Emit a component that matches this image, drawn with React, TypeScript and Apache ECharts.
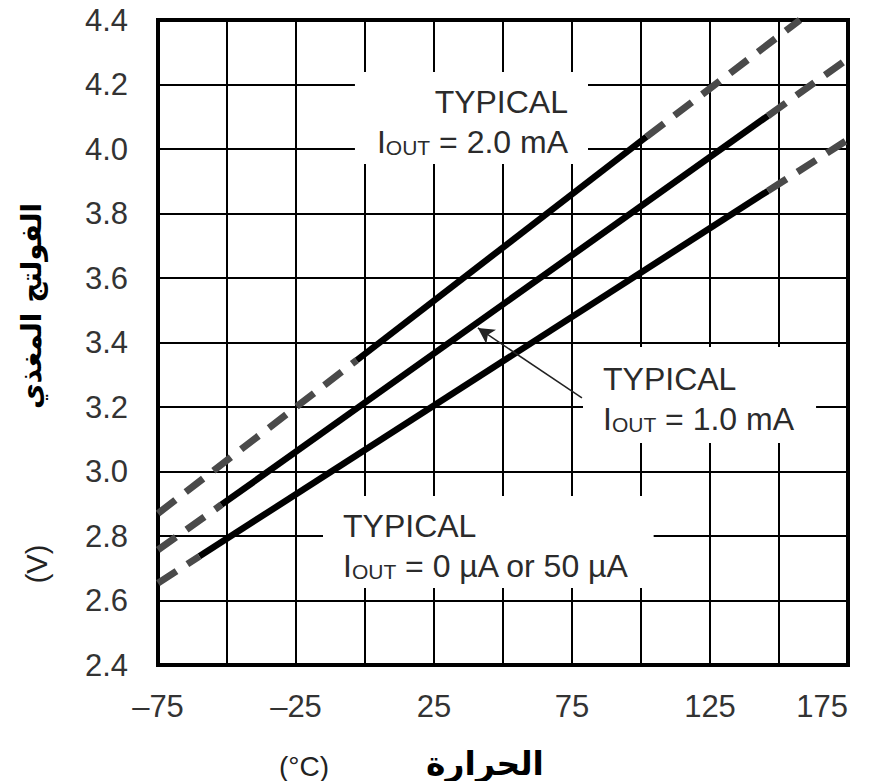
import React, { useEffect, useRef } from "react";
import * as echarts from "echarts";

// ---- data ----
const xTicks = { min: -75, max: 175, step: 25 };
const yTicks = { min: 2.4, max: 4.4, step: 0.2 };

// I_OUT = 2.0 mA
const out20DashLeft: [number, number][] = [[-75, 2.87], [-3, 3.345]];
const out20Solid: [number, number][] = [[-3, 3.345], [102, 4.038]];
const out20DashRight: [number, number][] = [[102, 4.038], [157.6, 4.4]];

// I_OUT = 1.0 mA
const out10DashLeft: [number, number][] = [[-75, 2.757], [-52, 2.897]];
const out10Solid: [number, number][] = [[-52, 2.897], [146, 4.103]];
const out10DashRight: [number, number][] = [[146, 4.103], [175, 4.28]];

// I_OUT = 0 µA or 50 µA
const out0DashLeft: [number, number][] = [[-75, 2.654], [-60, 2.737]];
const out0Solid: [number, number][] = [[-60, 2.737], [146, 3.87]];
const out0DashRight: [number, number][] = [[146, 3.87], [175, 4.029]];

// arrow pointing at the 1.0 mA line
const arrowFrom: [number, number] = [78.6, 3.228];
const arrowTo: [number, number] = [40.9, 3.445];

const yTitle = "الفولتج المغذي";
const yUnit = "(V)";
const xTitle = "الحرارة";
const xUnit = "(°C)";

const LAT = "'Liberation Sans', Arial, sans-serif";
const ARB = "'DejaVu Sans', sans-serif";

const richStyles = {
  a: { fontSize: 32, lineHeight: 40, fontFamily: LAT, fill: "#2b2b2b", verticalAlign: "bottom" },
  s: { fontSize: 21, lineHeight: 20, fontFamily: LAT, fill: "#2b2b2b", verticalAlign: "bottom" },
};

function dashed(name: string, data: [number, number][]) {
  return {
    type: "line",
    name,
    data,
    showSymbol: false,
    symbol: "none",
    z: 3,
    lineStyle: { color: "#4a4a4a", width: 7, type: [22, 13], cap: "butt" },
  };
}
function solid(name: string, data: [number, number][], extra: any = {}) {
  return {
    type: "line",
    name,
    data,
    showSymbol: false,
    symbol: "none",
    z: 4,
    lineStyle: { color: "#000", width: 6.5, type: "solid", cap: "butt" },
    ...extra,
  };
}

export default function App() {
  const ref = useRef<HTMLDivElement>(null);
  useEffect(() => {
    if (!ref.current) return;
    const chart = echarts.init(ref.current, undefined, { renderer: "svg" });
    chart.setOption({
      animation: false,
      backgroundColor: "#fff",
      grid: {
        left: 158,
        top: 20,
        right: 33,
        bottom: 116,
        show: true,
        borderColor: "#000",
        borderWidth: 4,
        z: 1,
      },
      xAxis: {
        type: "value",
        min: xTicks.min,
        max: xTicks.max,
        interval: xTicks.step,
        axisLine: { show: false },
        axisTick: { show: false },
        splitLine: { show: true, lineStyle: { color: "#000", width: 2 } },
        axisLabel: {
          margin: 26,
          fontSize: 31,
          color: "#333",
          fontFamily: LAT,
          alignMaxLabel: "right",
          formatter: (v: number) =>
            Math.round(v + 75) % 50 === 0 ? String(Math.round(v)).replace("-", "–") : "",
        },
      },
      yAxis: {
        type: "value",
        min: yTicks.min,
        max: yTicks.max,
        interval: yTicks.step,
        axisLine: { show: false },
        axisTick: { show: false },
        splitLine: { show: true, lineStyle: { color: "#000", width: 2 } },
        axisLabel: {
          margin: 30,
          fontSize: 31,
          color: "#333",
          fontFamily: LAT,
          formatter: (v: number) => v.toFixed(1),
        },
      },
      series: [
        dashed("2.0 mA left", out20DashLeft),
        solid("2.0 mA", out20Solid),
        dashed("2.0 mA right", out20DashRight),
        dashed("1.0 mA left", out10DashLeft),
        solid("1.0 mA", out10Solid, {
          markLine: {
            silent: true,
            symbol: ["none", "arrow"],
            symbolSize: [13, 16],
            label: { show: false },
            lineStyle: { color: "#222", width: 1.5, type: "solid" },
            data: [[{ coord: arrowFrom }, { coord: arrowTo }]],
          },
        }),
        dashed("1.0 mA right", out10DashRight),
        dashed("0 µA left", out0DashLeft),
        solid("0 µA", out0Solid),
        dashed("0 µA right", out0DashRight),
      ],
      graphic: [
        {
          type: "text",
          x: 588,
          y: 118,
          z: 10,
          style: {
            text: "{a|TYPICAL}\n{a|I}{s|OUT}{a| = 2.0 mA}",
            rich: richStyles,
            align: "right",
            verticalAlign: "middle",
            backgroundColor: "#fff",
            padding: [6, 20, 6, 22],
          },
        },
        {
          type: "text",
          x: 583,
          y: 395,
          z: 10,
          style: {
            text: "{a|TYPICAL}\n{a|I}{s|OUT}{a| = 1.0 mA}",
            rich: richStyles,
            align: "left",
            verticalAlign: "middle",
            backgroundColor: "#fff",
            padding: [8, 22, 8, 20],
          },
        },
        {
          type: "text",
          x: 323,
          y: 542,
          z: 10,
          style: {
            text: "{a|TYPICAL}\n{a|I}{s|OUT}{a| = 0 µA or 50 µA}",
            rich: richStyles,
            align: "left",
            verticalAlign: "middle",
            backgroundColor: "#fff",
            padding: [6, 24, 6, 20],
          },
        },
        {
          type: "text",
          x: 31,
          y: 306,
          rotation: Math.PI / 2,
          style: {
            text: yTitle,
            fontFamily: ARB,
            fontWeight: "bold",
            fontSize: 28,
            fill: "#000",
            align: "center",
            verticalAlign: "middle",
          },
        },
        {
          type: "text",
          x: 37,
          y: 564,
          rotation: Math.PI / 2,
          style: {
            text: yUnit,
            fontFamily: LAT,
            fontSize: 29,
            fill: "#222",
            align: "center",
            verticalAlign: "middle",
          },
        },
        {
          type: "text",
          x: 485,
          y: 763,
          style: {
            text: xTitle,
            fontFamily: ARB,
            fontWeight: "bold",
            fontSize: 33,
            fill: "#000",
            align: "center",
            verticalAlign: "middle",
          },
        },
        {
          type: "text",
          x: 304,
          y: 766,
          style: {
            text: xUnit,
            fontFamily: LAT,
            fontSize: 28,
            fill: "#222",
            align: "center",
            verticalAlign: "middle",
          },
        },
      ],
    });
    return () => chart.dispose();
  }, []);
  return (
    <div
      ref={ref}
      style={{ position: "absolute", left: 0, top: 0, width: 881, height: 781, background: "#fff" }}
    />
  );
}
